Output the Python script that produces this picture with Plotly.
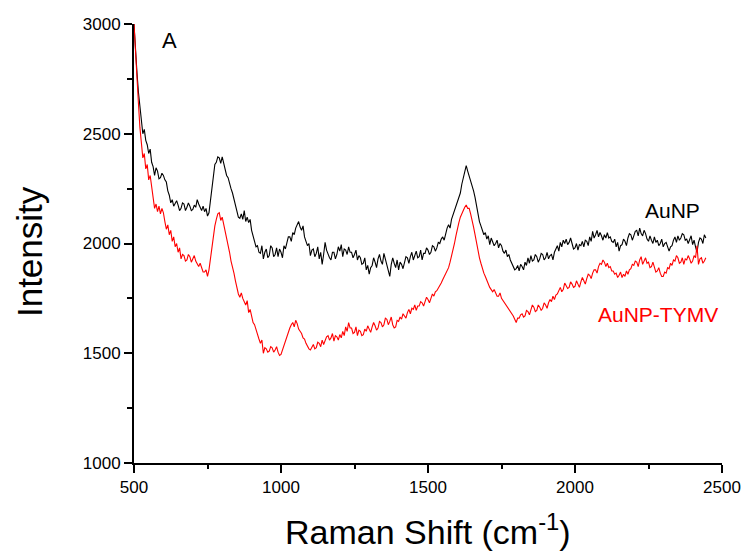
import plotly.graph_objects as go

# Raman shift sampling (cm^-1)
shift = list(range(500, 2450, 5))

aunp = [
    3000, 2870, 2780, 2690, 2620, 2540, 2500, 2520, 2470, 2450,
    2410, 2430, 2370, 2350, 2310, 2345, 2330, 2295, 2300, 2320,
    2310, 2290, 2280, 2240, 2220, 2185, 2200, 2170, 2180, 2195,
    2175, 2150, 2160, 2185, 2180, 2150, 2165, 2185, 2170, 2150,
    2155, 2175, 2165, 2200, 2180, 2160, 2150, 2170, 2145, 2160,
    2125, 2140, 2200, 2270, 2330, 2360, 2370, 2395, 2390, 2365,
    2395, 2370, 2340, 2310, 2300, 2270, 2250, 2230, 2200, 2170,
    2140, 2120, 2115, 2135, 2110, 2150, 2100, 2120, 2095, 2110,
    2060, 2040, 2010, 1985, 1990, 1960, 1955, 1990, 1930, 1960,
    1975, 1935, 1945, 1990, 1980, 1940, 1950, 1980, 1940, 1975,
    1960, 1935, 1990, 1975, 2010, 2030, 2030, 2010, 2050, 2040,
    2070, 2090, 2100, 2075, 2060, 2080, 2030, 2010, 1990, 2000,
    1945, 1970, 1975, 1940, 1955, 1985, 1930, 1960, 1905, 1950,
    2005, 1970, 1950, 1935, 1925, 1960, 1960, 1930, 1950, 1985,
    1965, 1995, 1940, 1975, 1970, 1950, 1985, 1960, 1960, 1935,
    1950, 1970, 1925, 1945, 1935, 1905, 1910, 1935, 1880, 1900,
    1860, 1890, 1900, 1935, 1915, 1890, 1930, 1950, 1920, 1905,
    1955, 1925, 1910, 1875, 1850, 1905, 1935, 1910, 1890, 1925,
    1880, 1915, 1905, 1885, 1915, 1940, 1935, 1910, 1940, 1960,
    1925, 1950, 1965, 1935, 1940, 1970, 1925, 1955, 1955, 1980,
    1970, 1950, 1960, 1990, 1985, 1965, 1980, 2005, 2000, 2020,
    2030, 2015, 2050, 2070, 2085, 2070, 2110, 2130, 2145, 2165,
    2180, 2200, 2230, 2270, 2300, 2320, 2355, 2330, 2310, 2290,
    2260, 2240, 2210, 2170, 2130, 2100, 2080, 2060, 2040, 2050,
    2020, 2035, 1995, 2025, 2010, 1990, 2000, 2015, 1980, 2000,
    1990, 1965, 1955, 1970, 1940, 1950, 1925, 1910, 1900, 1880,
    1885, 1900, 1875, 1905, 1895, 1880, 1915, 1900, 1935, 1910,
    1945, 1920, 1925, 1950, 1940, 1915, 1930, 1955, 1950, 1925,
    1935, 1960, 1930, 1945, 1950, 1925, 1960, 1980, 1990, 1965,
    2005, 1985, 2015, 2000, 2020, 1995, 2005, 2025, 1995, 1975,
    1980, 2000, 1970, 1995, 1990, 2010, 1985, 2015, 2010, 1990,
    2030, 2010, 2055, 2025, 2040, 2060, 2030, 2050, 2035, 2015,
    2040, 2025, 2050, 2025, 2030, 2010, 2005, 2020, 1985, 2005,
    1965, 1990, 1995, 2020, 2010, 1990, 2025, 2045, 2040, 2015,
    2035, 2055, 2060, 2035, 2070, 2045, 2035, 2060, 2045, 2020,
    2010, 2035, 2015, 2000, 2030, 2005, 2015, 1990, 2000, 2020,
    1985, 2000, 2005, 1980, 1965, 1985, 1990, 2015, 2030, 2005,
    2035, 2015, 2025, 2045, 2040, 2015, 2020, 2000, 2015, 2035,
    1995, 2015, 1985, 1960, 2005, 2025, 2020, 2000, 2040, 2025,
]

aunp_tymv = [
    3000, 2860, 2740, 2640, 2530, 2450, 2390, 2410, 2340, 2360,
    2290, 2310, 2260, 2220, 2160, 2180, 2145, 2170, 2135, 2160,
    2140, 2100, 2065, 2085, 2040, 2060, 2010, 2030, 1985, 2000,
    1960, 1980, 1930, 1950, 1945, 1920, 1925, 1950, 1940, 1915,
    1930, 1945, 1920, 1905, 1895, 1910, 1885, 1870, 1870, 1880,
    1850, 1880, 1930, 1990, 2040, 2080, 2110, 2135, 2140, 2105,
    2120, 2090, 2060, 2030, 1990, 1960, 1920, 1895, 1865, 1830,
    1790, 1770, 1755, 1775, 1750, 1735, 1720, 1740, 1685, 1700,
    1660, 1640, 1630, 1605, 1580, 1565, 1545, 1560, 1500, 1525,
    1520, 1505, 1510, 1530, 1525, 1505, 1515, 1530, 1505, 1490,
    1495, 1515, 1540, 1565, 1580, 1600, 1615, 1630, 1640, 1620,
    1650, 1635, 1610, 1600, 1590, 1570, 1565, 1545, 1530, 1520,
    1515, 1530, 1540, 1520, 1525, 1550, 1545, 1530, 1560, 1540,
    1555, 1575, 1580, 1560, 1570, 1590, 1555, 1580, 1575, 1560,
    1585, 1570, 1600, 1580, 1620, 1600, 1640, 1615, 1615, 1590,
    1595, 1620, 1580, 1605, 1600, 1580, 1585, 1610, 1600, 1625,
    1610, 1595, 1620, 1640, 1625, 1605, 1615, 1645, 1640, 1620,
    1630, 1660, 1655, 1630, 1645, 1665, 1630, 1615, 1620, 1650,
    1645, 1665, 1655, 1680, 1670, 1660, 1685, 1700, 1680, 1705,
    1700, 1720, 1695, 1715, 1715, 1735, 1730, 1715, 1735, 1755,
    1745, 1730, 1750, 1770, 1760, 1780, 1785, 1795, 1805, 1820,
    1835, 1850, 1860, 1880, 1890, 1915, 1940, 1970, 2000, 2035,
    2070, 2095, 2120, 2140, 2150, 2165, 2175, 2160, 2160, 2135,
    2110, 2075, 2040, 2000, 1965, 1935, 1910, 1885, 1865, 1850,
    1830, 1815, 1800, 1790, 1780, 1790, 1770, 1760, 1760, 1775,
    1750, 1740, 1735, 1720, 1710, 1700, 1690, 1680, 1670, 1655,
    1640, 1660, 1660, 1675, 1680, 1665, 1670, 1695, 1690, 1675,
    1700, 1720, 1710, 1690, 1695, 1720, 1710, 1695, 1705, 1730,
    1720, 1705, 1730, 1745, 1735, 1760, 1745, 1765, 1770, 1790,
    1800, 1780, 1790, 1820, 1810, 1795, 1800, 1825, 1815, 1800,
    1805, 1830, 1815, 1800, 1825, 1845, 1830, 1815, 1840, 1860,
    1855, 1840, 1865, 1880, 1880, 1865, 1895, 1910, 1905, 1925,
    1915, 1895, 1910, 1890, 1895, 1875, 1875, 1860, 1865, 1845,
    1855, 1870, 1845, 1860, 1850, 1875, 1860, 1880, 1885, 1905,
    1900, 1920, 1915, 1895, 1925, 1940, 1905, 1920, 1935, 1910,
    1915, 1890, 1895, 1915, 1890, 1870, 1875, 1890, 1865, 1850,
    1850, 1870, 1865, 1890, 1885, 1910, 1900, 1925, 1920, 1945,
    1935, 1910, 1915, 1935, 1905, 1930, 1925, 1945, 1930, 1910,
    1920, 1945, 1935, 1990, 1905, 1930, 1935, 1910, 1920, 1935,
]

x_ticks = [500, 1000, 1500, 2000, 2500]
y_ticks = [1000, 1500, 2000, 2500, 3000]

FONT = "Liberation Sans, Arial, sans-serif"

fig = go.Figure()
fig.add_trace(go.Scatter(x=shift, y=aunp, mode="lines", name="AuNP",
                         line=dict(color="black", width=1.1)))
fig.add_trace(go.Scatter(x=shift, y=aunp_tymv, mode="lines", name="AuNP-TYMV",
                         line=dict(color="red", width=1.1)))

axis_common = dict(
    showgrid=False, zeroline=False, showline=True, linecolor="black", linewidth=2,
    ticks="outside", ticklen=8, tickwidth=2, tickcolor="black",
    tickfont=dict(family=FONT, size=17, color="black"),
)

fig.update_xaxes(range=[500, 2500], tickvals=x_ticks, ticktext=[str(v) for v in x_ticks],
                 minor=dict(ticks="outside", ticklen=4, tickwidth=2, tickcolor="black",
                            dtick=250, tick0=500),
                 **axis_common)
fig.update_yaxes(range=[1000, 3000], tickvals=y_ticks, ticktext=[str(v) for v in y_ticks],
                 minor=dict(ticks="outside", ticklen=5, tickwidth=2, tickcolor="black",
                            dtick=250, tick0=1000),
                 **axis_common)

L, R, T, B = 134, 25, 24, 91
W, H = 753, 554
pw, ph = W - L - R, H - T - B

fig.add_annotation(text="Intensity", xref="paper", yref="paper",
                   x=(29 - L) / pw, y=(H - B - 252) / ph, textangle=-90,
                   showarrow=False, font=dict(family=FONT, size=35, color="black"),
                   xanchor="center", yanchor="middle")
fig.add_annotation(text="Raman Shift (cm<sup>-1</sup>)", xref="paper", yref="paper",
                   x=(431 - L) / pw, y=(H - B - 529) / ph,
                   showarrow=False, font=dict(family=FONT, size=34, color="black"),
                   xanchor="center", yanchor="middle")
fig.add_annotation(text="A", x=620, y=2925, showarrow=False,
                   font=dict(family=FONT, size=22, color="black"))
fig.add_annotation(text="AuNP", x=2330, y=2149, showarrow=False,
                   font=dict(family=FONT, size=21, color="black"))
fig.add_annotation(text="AuNP-TYMV", x=2282, y=1675, showarrow=False,
                   font=dict(family=FONT, size=21, color="red"))

fig.update_layout(
    width=W, height=H, margin=dict(l=L, r=R, t=T, b=B),
    paper_bgcolor="white", plot_bgcolor="white", showlegend=False,
)

fig.write_html("out.html", config={"displayModeBar": False},
               post_script="document.body.style.margin='0';document.body.style.padding='0';")
